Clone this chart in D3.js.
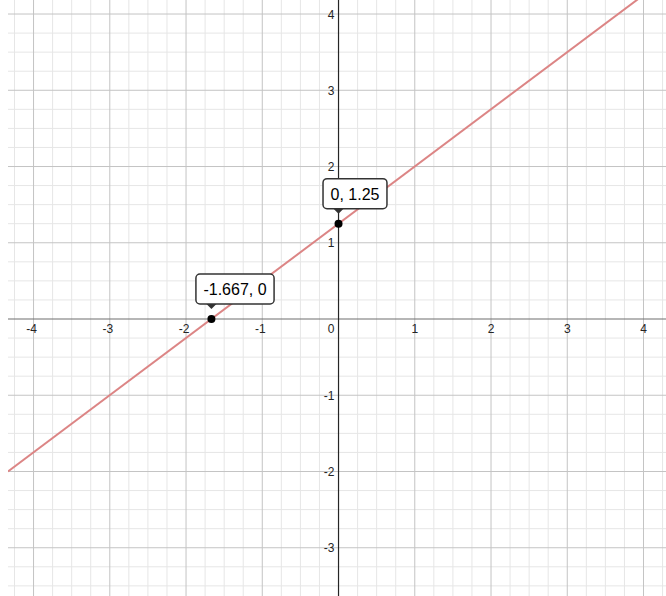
<!DOCTYPE html>
<html>
<head>
<meta charset="utf-8">
<script src="https://cdn.jsdelivr.net/npm/d3@7/dist/d3.min.js"></script>
<style>
  html, body { margin: 0; padding: 0; background: #fff; }
  svg { display: block; font-family: "Liberation Sans", Arial, sans-serif; }
</style>
</head>
<body>
<svg id="chart" width="666" height="596"></svg>
<script>
// ---- data ----
const xDomain = [-4.335, 4.295];
const yDomain = [-3.633, 4.184];
const xTicks = [-4, -3, -2, -1, 0, 1, 2, 3, 4];
const yTicks = [-3, -2, -1, 1, 2, 3, 4];
const xTickLabels = ["-4", "-3", "-2", "-1", "0", "1", "2", "3", "4"];
const yTickLabels = ["-3", "-2", "-1", "1", "2", "3", "4"];
const minorStep = 0.25;
const pointX = [-1.667, 0];
const pointY = [0, 1.25];
const pointLabels = ["-1.667, 0", "0, 1.25"];

// ---- layout ----
const W = 666, H = 596;
const plotLeft = 8, plotTop = 0;
const svg = d3.select("#chart");
const x = d3.scaleLinear().domain(xDomain).range([plotLeft, W]);
const y = d3.scaleLinear().domain(yDomain).range([H, plotTop]);

const g = svg.append("g");

// minor grid
const minorXs = d3.range(Math.ceil(xDomain[0] / minorStep), Math.floor(xDomain[1] / minorStep) + 1).map(i => i * minorStep);
const minorYs = d3.range(Math.ceil(yDomain[0] / minorStep), Math.floor(yDomain[1] / minorStep) + 1).map(i => i * minorStep);

g.selectAll(".mx").data(minorXs.filter(v => Math.abs(v - Math.round(v)) > 1e-6))
  .enter().append("line")
  .attr("x1", d => x(d)).attr("x2", d => x(d))
  .attr("y1", plotTop).attr("y2", H)
  .attr("stroke", "#e6e6e6").attr("stroke-width", 1);
g.selectAll(".my").data(minorYs.filter(v => Math.abs(v - Math.round(v)) > 1e-6))
  .enter().append("line")
  .attr("x1", plotLeft).attr("x2", W)
  .attr("y1", d => y(d)).attr("y2", d => y(d))
  .attr("stroke", "#e6e6e6").attr("stroke-width", 1);

// major grid
g.selectAll(".Mx").data(xTicks.filter(v => v !== 0))
  .enter().append("line")
  .attr("x1", d => x(d)).attr("x2", d => x(d))
  .attr("y1", plotTop).attr("y2", H)
  .attr("stroke", "#c4c4c4").attr("stroke-width", 1);
g.selectAll(".My").data(yTicks)
  .enter().append("line")
  .attr("x1", plotLeft).attr("x2", W)
  .attr("y1", d => y(d)).attr("y2", d => y(d))
  .attr("stroke", "#c4c4c4").attr("stroke-width", 1);

// axes
g.append("line")
  .attr("x1", plotLeft).attr("x2", W).attr("y1", y(0)).attr("y2", y(0))
  .attr("stroke", "#6e6e6e").attr("stroke-width", 1.2);
g.append("line")
  .attr("x1", x(0)).attr("x2", x(0)).attr("y1", plotTop).attr("y2", H)
  .attr("stroke", "#252525").attr("stroke-width", 1.2);

// tick labels
g.selectAll(".xl").data(xTicks)
  .enter().append("text")
  .attr("x", d => d === 0 ? x(0) - 4 : (d < 0 ? x(d) + 3.4 : x(d)))
  .attr("y", y(0) + 14)
  .attr("text-anchor", d => d === 0 ? "end" : (d < 0 ? "end" : "middle"))
  .attr("font-size", 12).attr("fill", "#252525")
  .text((d, i) => xTickLabels[i]);
g.selectAll(".yl").data(yTicks)
  .enter().append("text")
  .attr("x", x(0) - 4)
  .attr("y", d => y(d) + 4.5)
  .attr("text-anchor", "end")
  .attr("font-size", 12).attr("fill", "#252525")
  .text((d, i) => yTickLabels[i]);

// line through the two points, extended to the plot edges
const slope = (pointY[1] - pointY[0]) / (pointX[1] - pointX[0]);
const icpt = pointY[1] - slope * pointX[1];
const ends = xDomain.map(v => [v, slope * v + icpt]);
svg.append("clipPath").attr("id", "clip").append("rect")
  .attr("x", plotLeft).attr("y", plotTop).attr("width", W - plotLeft).attr("height", H - plotTop);
g.append("path")
  .datum(ends)
  .attr("clip-path", "url(#clip)")
  .attr("d", d3.line().x(d => x(d[0])).y(d => y(d[1])))
  .attr("fill", "none").attr("stroke", "#dc8585").attr("stroke-width", 2);

// points
g.selectAll(".pt").data(pointX)
  .enter().append("circle")
  .attr("cx", d => x(d)).attr("cy", (d, i) => y(pointY[i]))
  .attr("r", 4).attr("fill", "#000");

// point labels (tooltips)
pointX.forEach((px, i) => {
  const cx = x(px), cy = y(pointY[i]);
  const lg = g.append("g");
  const t = lg.append("text")
    .attr("font-size", 16).attr("fill", "#000")
    .text(pointLabels[i]);
  const tw = t.node().getComputedTextLength();
  const pad = 7.5, bh = 30;
  const bx = cx - 15.5, by = cy - 15 - bh;
  lg.insert("rect", "text")
    .attr("x", bx).attr("y", by).attr("width", tw + 2 * pad).attr("height", bh)
    .attr("rx", 4).attr("ry", 4)
    .attr("fill", "#fff").attr("stroke", "#333").attr("stroke-width", 1.5);
  t.attr("x", bx + pad).attr("y", by + bh / 2 + 6);
  lg.append("path")
    .attr("d", `M${cx - 5},${by + bh} L${cx + 5},${by + bh} L${cx},${by + bh + 5} Z`)
    .attr("fill", "#333");
});
</script>
</body>
</html>
